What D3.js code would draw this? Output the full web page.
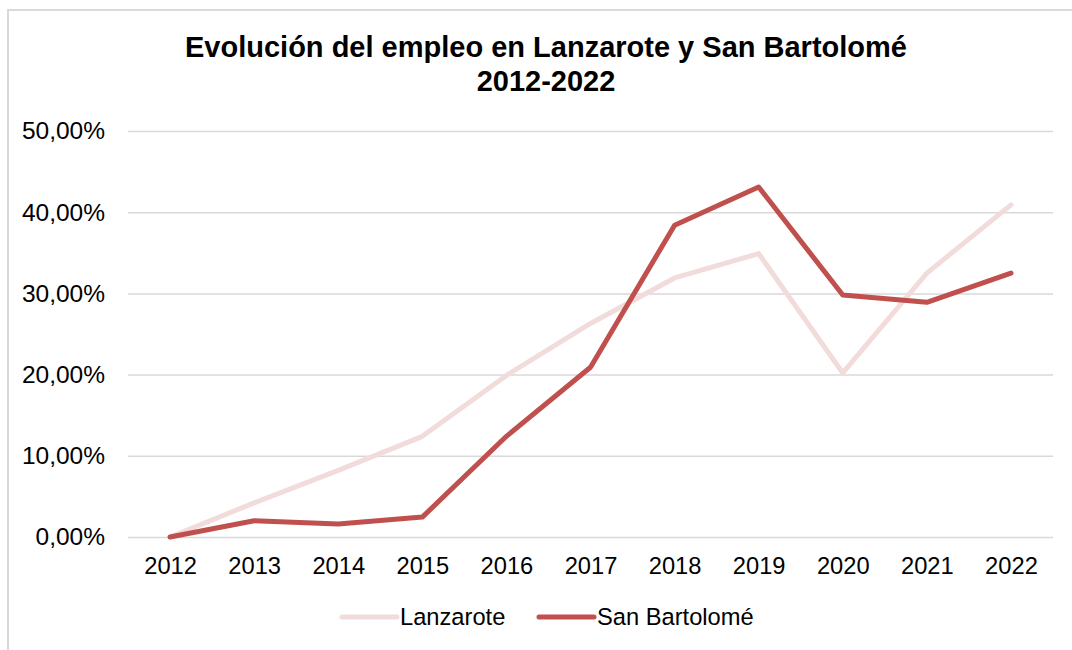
<!DOCTYPE html>
<html>
<head>
<meta charset="utf-8">
<script src="https://cdn.jsdelivr.net/npm/d3@7"></script>
<style>
  html, body { margin: 0; padding: 0; background: #fff; }
  svg { display: block; font-family: "Liberation Sans", Arial, sans-serif; }
</style>
</head>
<body>
<svg id="chart" width="1072" height="650"></svg>
<script>
// Employment growth relative to 2012 (%)
const years = ["2012", "2013", "2014", "2015", "2016", "2017", "2018", "2019", "2020", "2021", "2022"];
const lanzarote = [0, 4.2, 8.2, 12.4, 19.9, 26.3, 31.9, 34.9, 20.2, 32.5, 40.9];
const sanBartolome = [0, 2.0, 1.6, 2.45, 12.4, 20.9, 38.4, 43.1, 29.8, 28.9, 32.5];
const yTicks = [0, 10, 20, 30, 40, 50];
const titleLines = ["Evolución del empleo en Lanzarote y San Bartolomé", "2012-2022"];

const series = [
  { name: "Lanzarote", values: lanzarote, color: "#f2dcdb" },
  { name: "San Bartolomé", values: sanBartolome, color: "#c0504d" }
];

const svg = d3.select("#chart");
const W = 1072, H = 650;
const plot = { left: 128, right: 1053, top: 131, bottom: 537 };

// outer frame (right and bottom edges fall outside the canvas)
svg.append("rect")
  .attr("x", 8).attr("y", 10)
  .attr("width", W + 20).attr("height", H + 20)
  .attr("fill", "#fff")
  .attr("stroke", "#d9d9d9").attr("stroke-width", 2);

// title
svg.append("g").selectAll("text")
  .data(titleLines)
  .join("text")
  .attr("x", 546)
  .attr("y", (d, i) => 57 + i * 34)
  .attr("text-anchor", "middle")
  .attr("font-weight", "bold")
  .attr("font-size", 29)
  .attr("fill", "#000")
  .text(d => d);

const x = d3.scalePoint().domain(years).range([plot.left, plot.right]).padding(0.5);
const y = d3.scaleLinear().domain([0, 50]).range([plot.bottom, plot.top]);

const fmt = v => d3.format(".2f")(v).replace(".", ",") + "%";

// horizontal gridlines + y labels
const yAxis = d3.axisLeft(y)
  .tickValues(yTicks)
  .tickSize(-(plot.right - plot.left))
  .tickPadding(23)
  .tickFormat(fmt);

const gy = svg.append("g")
  .attr("transform", `translate(${plot.left},0)`)
  .call(yAxis);
gy.select(".domain").remove();
gy.selectAll(".tick line").attr("stroke", "#d9d9d9").attr("stroke-width", 1.5);
gy.selectAll(".tick text")
  .attr("font-family", "Liberation Sans, Arial, sans-serif")
  .attr("font-size", 24.5)
  .attr("fill", "#000");

// x labels
const xAxis = d3.axisBottom(x).tickSize(0).tickPadding(20);
const gx = svg.append("g")
  .attr("transform", `translate(0,${plot.bottom})`)
  .call(xAxis);
gx.select(".domain").remove();
gx.selectAll(".tick text")
  .attr("font-family", "Liberation Sans, Arial, sans-serif")
  .attr("font-size", 23.7)
  .attr("fill", "#000");

// series lines
const line = d3.line()
  .x((d, i) => x(years[i]))
  .y(d => y(d));

svg.append("g").selectAll("path")
  .data(series)
  .join("path")
  .attr("d", d => line(d.values))
  .attr("fill", "none")
  .attr("stroke", d => d.color)
  .attr("stroke-width", 5)
  .attr("stroke-linejoin", "round")
  .attr("stroke-linecap", "round");

// legend
const legendPos = [342, 539];
const lg = svg.append("g").selectAll("g")
  .data(series)
  .join("g")
  .attr("transform", (d, i) => `translate(${legendPos[i]},617)`);
lg.append("line")
  .attr("x1", 0).attr("x2", 55)
  .attr("stroke", d => d.color)
  .attr("stroke-width", 5)
  .attr("stroke-linecap", "round");
lg.append("text")
  .attr("x", 58)
  .attr("y", 8)
  .attr("font-size", 23.7)
  .attr("fill", "#000")
  .text(d => d.name);
</script>
</body>
</html>
